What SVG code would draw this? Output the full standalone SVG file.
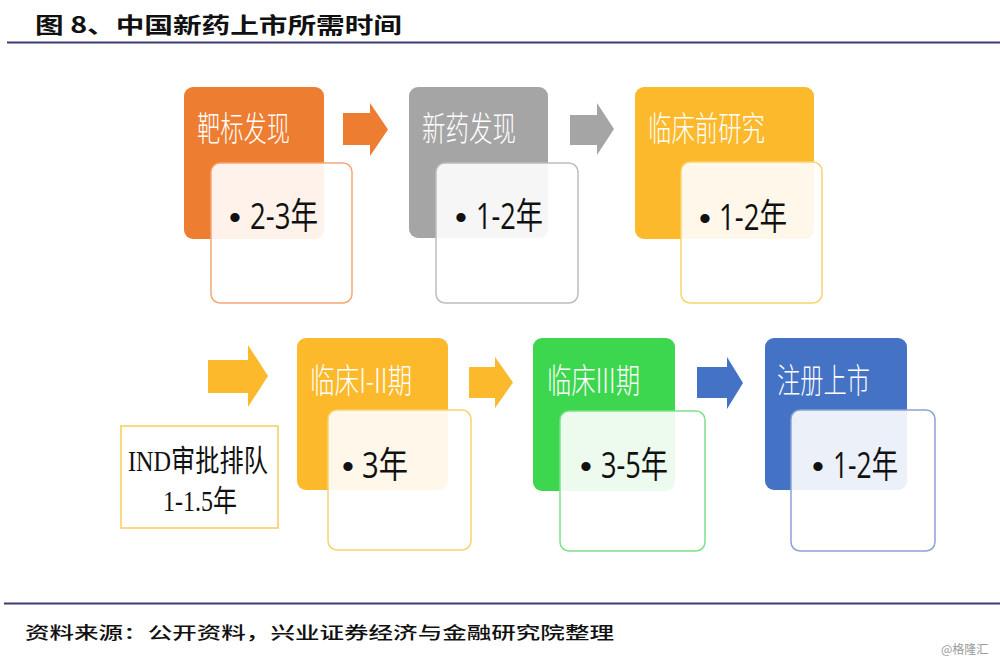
<svg xmlns="http://www.w3.org/2000/svg" width="1000" height="662" viewBox="0 0 1000 662">
<style>
.title{font-family:"Noto Sans CJK SC","Liberation Serif",serif;font-weight:700;font-size:22px;fill:#111}
.src{font-family:"Noto Sans CJK SC","Liberation Serif",serif;font-weight:500;font-size:17px;fill:#111}
.wm{font-family:"Noto Sans CJK SC",sans-serif;font-size:12px;fill:#9a9a9a}
.lab{font-family:"Noto Sans CJK SC",sans-serif;font-weight:300;font-size:34px;fill:#fff}
.val{font-family:"Open Sans","Noto Sans CJK SC",sans-serif;font-size:36px;fill:#111}
.bul{font-family:"Liberation Sans",sans-serif;font-size:34px;fill:#111}
.ind{font-family:"Liberation Serif","Noto Sans CJK SC",serif;font-size:30px;fill:#111}
.front{fill:#fff;fill-opacity:0.9;stroke-width:1.5}
</style>
<text class="title" x="35" y="33" textLength="367" lengthAdjust="spacingAndGlyphs">图 8、中国新药上市所需时间</text>
<line x1="7" y1="42.5" x2="1000" y2="42.5" stroke="#3b3b75" stroke-width="2"/>

<g id="connectors">
<polygon points="343,113 370,113 370,103 388,129.5 370,156 370,145 343,145" fill="#ED7D31"/>
<polygon points="570,115 597,115 597,103 614,129 597,155 597,145 570,145" fill="#A5A5A5"/>
<polygon points="208,360 248,360 248,345 268,376 248,407 248,393 208,393" fill="#FBB92B"/>
<polygon points="469,367 495,367 495,357 513,382.5 495,408 495,398 469,398" fill="#FBB92B"/>
<polygon points="697,367 727,367 727,357 743,383 727,409 727,398 697,398" fill="#4472C4"/>
</g>

<g id="node-target">
<rect x="184" y="87" width="140" height="152" rx="9" fill="#ED7D31"/>
<text class="lab" x="197" y="141" textLength="93" lengthAdjust="spacingAndGlyphs">靶标发现</text>
<rect class="front" x="211" y="163" width="141" height="140" rx="9" stroke="#F2A877"/>
<text class="val" y="229"><tspan class="bul" x="229">•</tspan><tspan x="250" textLength="68" lengthAdjust="spacingAndGlyphs">2-3年</tspan></text>
</g>

<g id="node-newdrug">
<rect x="409" y="87" width="139" height="151" rx="9" fill="#A5A5A5"/>
<text class="lab" x="422" y="141" textLength="94" lengthAdjust="spacingAndGlyphs">新药发现</text>
<rect class="front" x="436" y="163" width="142" height="140" rx="9" stroke="#BDBDBD"/>
<text class="val" y="229"><tspan class="bul" x="455">•</tspan><tspan x="476" textLength="67" lengthAdjust="spacingAndGlyphs">1-2年</tspan></text>
</g>

<g id="node-preclinical">
<rect x="635" y="87" width="179" height="152" rx="9" fill="#FBB92B"/>
<text class="lab" x="648" y="141" textLength="117" lengthAdjust="spacingAndGlyphs">临床前研究</text>
<rect class="front" x="681" y="162" width="141" height="141" rx="9" stroke="#F7D46E"/>
<text class="val" y="230"><tspan class="bul" x="699">•</tspan><tspan x="719" textLength="68" lengthAdjust="spacingAndGlyphs">1-2年</tspan></text>
</g>

<g id="node-ind">
<rect x="121" y="426" width="157" height="102" fill="#fff" stroke="#F5CE5A" stroke-width="1.5"/>
<text class="ind" x="128" y="471" textLength="140" lengthAdjust="spacingAndGlyphs">IND审批排队</text>
<text class="ind" x="163" y="511" textLength="74" lengthAdjust="spacingAndGlyphs">1-1.5年</text>
</g>

<g id="node-phase12">
<rect x="297" y="338" width="151" height="152" rx="9" fill="#FBB92B"/>
<text class="lab" x="310" y="393" textLength="102" lengthAdjust="spacingAndGlyphs">临床I-II期</text>
<rect class="front" x="328" y="410" width="143" height="140" rx="9" stroke="#F7D46E"/>
<text class="val" y="478"><tspan class="bul" x="342">•</tspan><tspan x="362" textLength="46" lengthAdjust="spacingAndGlyphs">3年</tspan></text>
</g>

<g id="node-phase3">
<rect x="533" y="338" width="142" height="153" rx="9" fill="#3DD64F"/>
<text class="lab" x="547" y="393" textLength="93" lengthAdjust="spacingAndGlyphs">临床III期</text>
<rect class="front" x="560" y="411" width="145" height="140" rx="9" stroke="#7FE08C"/>
<text class="val" y="478"><tspan class="bul" x="580">•</tspan><tspan x="601" textLength="67" lengthAdjust="spacingAndGlyphs">3-5年</tspan></text>
</g>

<g id="node-market">
<rect x="765" y="338" width="142" height="152" rx="9" fill="#4472C4"/>
<text class="lab" x="777" y="393" textLength="93" lengthAdjust="spacingAndGlyphs">注册上市</text>
<rect class="front" x="791" y="410" width="144" height="141" rx="9" stroke="#8BA3D3"/>
<text class="val" y="478"><tspan class="bul" x="812">•</tspan><tspan x="833" textLength="65" lengthAdjust="spacingAndGlyphs">1-2年</tspan></text>
</g>

<line x1="4" y1="603.5" x2="1000" y2="603.5" stroke="#3b3b75" stroke-width="2"/>
<text class="src" x="25" y="639" textLength="589" lengthAdjust="spacingAndGlyphs">资料来源：公开资料，兴业证券经济与金融研究院整理</text>
<text class="wm" x="941" y="654">@格隆汇</text>
</svg>
